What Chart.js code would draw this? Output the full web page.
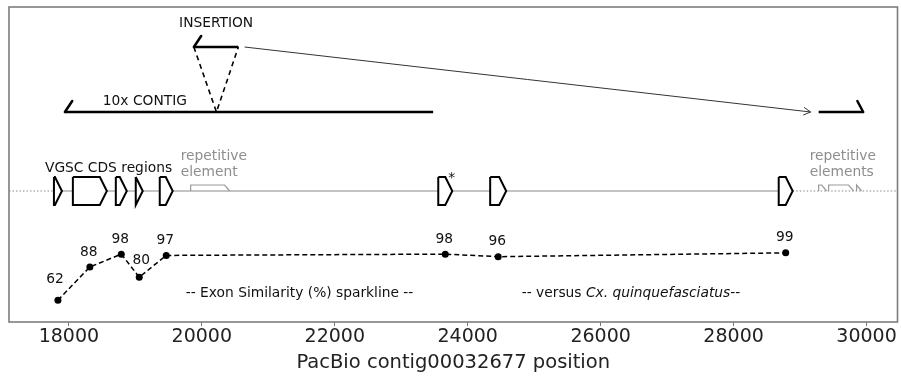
<!DOCTYPE html>
<html><head><meta charset="utf-8">
<script src="https://cdn.jsdelivr.net/npm/chart.js@4/dist/chart.umd.min.js"></script>
<style>html,body{margin:0;padding:0;background:#fff}#wrap{width:901px;height:376px}</style>
</head><body><div id="wrap"><canvas id="c" width="901" height="376"></canvas></div>
<script>
// ---------------- data (genomic positions, bp) ----------------
const exonStarts = [17775, 18060, 18706, 19006, 19367, 23557, 24338, 28679];
const exonEnds   = [17895, 18571, 18871, 19111, 19562, 23768, 24579, 28889];
const exonSimilarity = [62, 88, 98, 80, 97, 98, 96, 99];
const starredExon = 5;
const repeatStarts = [19832, 29280, 29430, 29850];
const repeatEnds   = [20418, 29400, 29805, 29925];
const contig10x = [17940, 23480];
const insertionSite = 20220;
const insertionSpan = [19880, 20550];
const insertionTarget = [29280, 29950];
const xTicks = [18000, 20000, 22000, 24000, 26000, 28000, 30000];
const xRange = [17099, 30466];

// ---------------- layout (track levels on hidden diagram axis) ----------------
const T = {insertion: 40, contig: 105, backbone: 184, exonHalf: 14, repeatH: 6,
           hookDx: 110, hookDy: 11, taperBp: 105, repeatTaperBp: 75};

Chart.defaults.font.family = "'DejaVu Sans', 'Liberation Sans', sans-serif";

function seg(points, opts) {
  return Object.assign({type: 'scatter', showLine: true, pointRadius: 0, pointHoverRadius: 0,
    yAxisID: 'yd', data: points, borderColor: '#000', borderWidth: 1, fill: false,
    borderJoinStyle: 'miter', borderCapStyle: 'butt', order: 5}, opts);
}
function exonShape(s, e) {
  const y = T.backbone, h = T.exonHalf, k = Math.max(s, e - T.taperBp);
  return [{x: s, y: y - h}, {x: k, y: y - h}, {x: e, y: y}, {x: k, y: y + h}, {x: s, y: y + h}, {x: s, y: y - h}];
}
function repeatShape(s, e) {
  const y = T.backbone, h = T.repeatH, k = Math.max(s, e - T.repeatTaperBp);
  return [{x: s, y: y}, {x: s, y: y - h}, {x: k, y: y - h}, {x: e, y: y}];
}

const datasets = [];
// backbone
datasets.push(seg([{x: xRange[0], y: T.backbone}, {x: exonStarts[0], y: T.backbone}], {borderColor: '#8a8a8a', borderWidth: 1.2, borderDash: [1.5, 2], order: 20}));
datasets.push(seg([{x: exonStarts[0], y: T.backbone}, {x: exonEnds[exonEnds.length - 1], y: T.backbone}], {borderColor: '#8a8a8a', borderWidth: 1.2, order: 20}));
datasets.push(seg([{x: exonEnds[exonEnds.length - 1], y: T.backbone}, {x: xRange[1], y: T.backbone}], {borderColor: '#8a8a8a', borderWidth: 1.2, borderDash: [1.5, 2], order: 20}));
// repeats
repeatStarts.forEach((s, i) => datasets.push(seg(repeatShape(s, repeatEnds[i]), {borderColor: '#9a9a9a', borderWidth: 1.2, order: 15})));
// exons
exonStarts.forEach((s, i) => datasets.push(seg(exonShape(s, exonEnds[i]), {borderWidth: 2, fill: 'shape', backgroundColor: '#fff', order: 10})));
// contig + hooks
datasets.push(seg([{x: contig10x[0], y: T.contig}, {x: contig10x[1], y: T.contig}], {borderWidth: 2.5}));
datasets.push(seg([{x: contig10x[0], y: T.contig}, {x: contig10x[0] + T.hookDx, y: T.contig - T.hookDy}], {borderWidth: 2.5, borderCapStyle: 'round'}));
datasets.push(seg([{x: insertionSpan[0], y: T.insertion}, {x: insertionSpan[1], y: T.insertion}], {borderWidth: 2.5}));
datasets.push(seg([{x: insertionSpan[0], y: T.insertion}, {x: insertionSpan[0] + T.hookDx, y: T.insertion - T.hookDy}], {borderWidth: 2.5, borderCapStyle: 'round'}));
datasets.push(seg([{x: insertionTarget[0], y: T.contig}, {x: insertionTarget[1], y: T.contig}], {borderWidth: 2.5}));
datasets.push(seg([{x: insertionTarget[1], y: T.contig}, {x: insertionTarget[1] - T.hookDx * 0.8, y: T.contig - T.hookDy}], {borderWidth: 2.5, borderCapStyle: 'round'}));
// dashed insertion triangle
datasets.push(seg([{x: insertionSpan[0], y: T.insertion}, {x: insertionSite, y: T.contig}, {x: insertionSpan[1], y: T.insertion}], {borderWidth: 1.6, borderDash: [5, 4]}));
// arrow to target
const arrowIndex = datasets.length;
datasets.push(seg([{x: insertionSpan[1] + 93, y: T.insertion}, {x: insertionTarget[0] - 121, y: T.contig}], {borderColor: '#333', borderWidth: 1}));
// sparkline
const sparkIndex = datasets.length;
datasets.push({type: 'scatter', showLine: true, yAxisID: 'ys', order: 1,
  data: exonSimilarity.map((v, i) => ({x: (exonStarts[i] + exonEnds[i]) / 2, y: v})),
  borderColor: '#000', borderWidth: 1.5, borderDash: [5, 3], pointRadius: 3.5, pointHoverRadius: 3.5,
  pointBackgroundColor: '#000', pointBorderWidth: 0});

const labelNudge = {0: [-3, -21], 3: [2, -17]};

const annot = {
  id: 'annot',
  afterDatasetsDraw(chart) {
    const {ctx, chartArea: ca, scales: {x, yd}} = chart;
    const X = v => x.getPixelForValue(v), Y = v => yd.getPixelForValue(v);
    ctx.save();
    // frame
    ctx.strokeStyle = '#7d7d7d'; ctx.lineWidth = 1.6;
    ctx.strokeRect(ca.left, ca.top, ca.right - ca.left, ca.bottom - ca.top);
    // arrowhead
    const am = chart.getDatasetMeta(arrowIndex).data;
    const p0 = am[0], p1 = am[1];
    const ang = Math.atan2(p1.y - p0.y, p1.x - p0.x);
    ctx.strokeStyle = '#333'; ctx.lineWidth = 1;
    ctx.beginPath();
    ctx.moveTo(p1.x - 8 * Math.cos(ang - 0.5), p1.y - 8 * Math.sin(ang - 0.5));
    ctx.lineTo(p1.x, p1.y);
    ctx.lineTo(p1.x - 8 * Math.cos(ang + 0.5), p1.y - 8 * Math.sin(ang + 0.5));
    ctx.stroke();
    // texts
    const F = (s, st) => (st || '') + ' ' + s + "px 'DejaVu Sans'";
    ctx.textBaseline = 'middle';
    ctx.fillStyle = '#111';
    ctx.font = F(13.8);
    ctx.textAlign = 'center';
    ctx.fillText('INSERTION', X((insertionSpan[0] + insertionSpan[1]) / 2), Y(T.insertion - 24));
    ctx.textAlign = 'left';
    ctx.fillText('10x CONTIG', X(contig10x[0] + 570), Y(T.contig - 11));
    ctx.fillText('VGSC CDS regions', X(exonStarts[0] - 135), Y(T.backbone - 23));
    // asterisk
    ctx.textAlign = 'center';
    ctx.fillText('*', X(exonEnds[starredExon] - 10), Y(T.backbone - 13));
    // repetitive labels
    ctx.fillStyle = '#8e8e8e';
    ctx.textAlign = 'left';
    ctx.fillText('repetitive', X(repeatStarts[0] - 150), Y(T.backbone - 35));
    ctx.fillText('element', X(repeatStarts[0] - 150), Y(T.backbone - 19));
    ctx.fillText('repetitive', X(repeatStarts[1] - 135), Y(T.backbone - 35));
    ctx.fillText('elements', X(repeatStarts[1] - 135), Y(T.backbone - 19));
    // similarity labels
    ctx.fillStyle = '#111';
    ctx.textAlign = 'center';
    const sm = chart.getDatasetMeta(sparkIndex).data;
    exonSimilarity.forEach((v, i) => {
      const n = labelNudge[i] || [-1, -15];
      ctx.fillText(String(v), sm[i].x + n[0], sm[i].y + n[1]);
    });
    // captions
    ctx.fillText('-- Exon Similarity (%) sparkline --', X(21470), Y(286));
    const parts = [['-- versus ', ''], ['Cx. quinquefasciatus', 'italic'], ['--', '']];
    let w = 0;
    parts.forEach(p => { ctx.font = F(13.8, p[1]); w += ctx.measureText(p[0]).width; });
    let cx = X(26456) - w / 2;
    ctx.textAlign = 'left';
    parts.forEach(p => { ctx.font = F(13.8, p[1]); ctx.fillText(p[0], cx, Y(286)); cx += ctx.measureText(p[0]).width; });
    ctx.restore();
  }
};

new Chart(document.getElementById('c'), {
  type: 'scatter',
  data: {datasets},
  options: {
    responsive: false, animation: false, devicePixelRatio: 1,
    layout: {padding: {left: 9, right: 2, top: 7, bottom: 0}},
    plugins: {legend: {display: false}, tooltip: {enabled: false}},
    events: [],
    scales: {
      x: {type: 'linear', min: xRange[0], max: xRange[1], position: 'bottom',
        afterBuildTicks: s => { s.ticks = xTicks.map(v => ({value: v})); },
        afterFit: s => { s.height = 54; },
        grid: {display: true, drawOnChartArea: false, drawTicks: true, tickLength: 4, color: '#777'},
        border: {display: false},
        ticks: {font: {size: 19}, color: '#222', padding: 0, maxRotation: 0, autoSkip: false, callback: v => String(v)},
        title: {display: true, text: 'PacBio contig00032677 position', font: {size: 19.5}, color: '#222', padding: {top: 0, bottom: 1}}},
      yd: {type: 'linear', display: false, min: 0, max: 315, reverse: true},
      ys: {type: 'linear', display: false, min: 45, max: 291}
    }
  },
  plugins: [annot]
});
</script></body></html>
